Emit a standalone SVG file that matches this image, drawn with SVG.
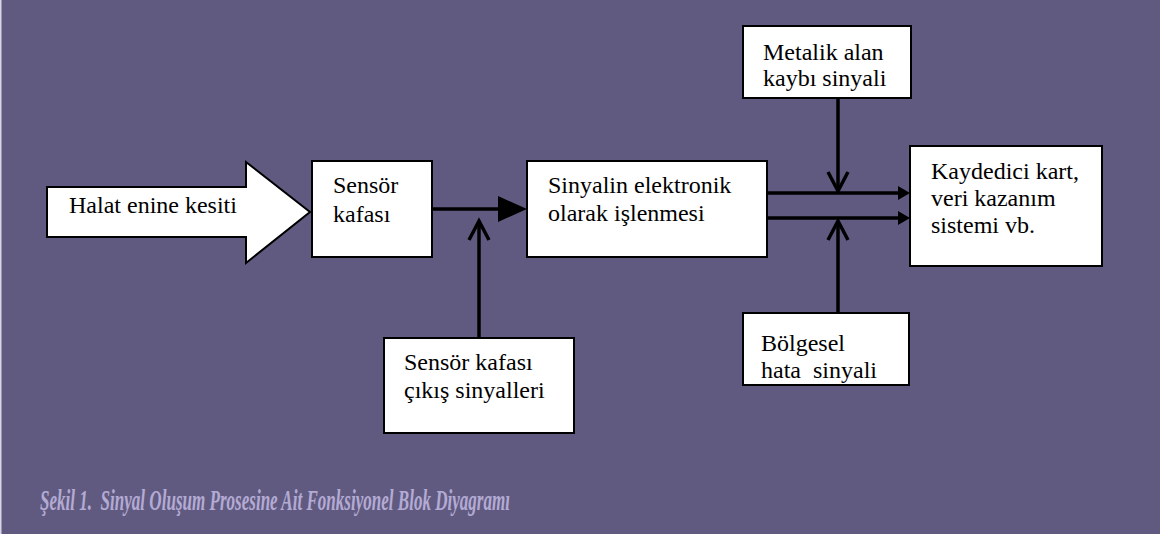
<svg xmlns="http://www.w3.org/2000/svg" width="1160" height="534" viewBox="0 0 1160 534">
<style>
.bg{fill:#615a80}
.box{fill:#ffffff;stroke:#000000;stroke-width:2}
.t{font-family:"Liberation Serif","Times New Roman",Times,serif;font-size:24px;fill:#000000}
.ln{stroke:#000000;stroke-width:3.5;fill:none}
.v{stroke:#000000;stroke-width:3.5;fill:none;stroke-linejoin:miter}
.cap{font-family:"Liberation Serif","Times New Roman",Times,serif;font-size:30px;font-style:italic;font-weight:bold;fill:#b3abd4}
</style>
<rect class="bg" x="0" y="0" width="1160" height="534"/>
<rect x="0" y="0" width="1.5" height="534" fill="#d9d5e8"/>

<g id="halat">
<path class="box" d="M47,187 L246,187 L246,162 L310,212 L246,263 L246,237 L47,237 Z"/>
<text class="t" x="69" y="213">Halat enine kesiti</text>
</g>

<g id="sensor">
<rect class="box" x="312" y="161" width="120" height="96"/>
<text class="t" x="333" y="193">Sensör</text>
<text class="t" x="333" y="221.5">kafası</text>
</g>

<g id="isleme">
<rect class="box" x="527" y="161" width="240" height="96"/>
<text class="t" x="548" y="193">Sinyalin elektronik</text>
<text class="t" x="548" y="221">olarak işlenmesi</text>
</g>

<g id="metalik">
<rect class="box" x="743" y="26" width="168" height="72"/>
<text class="t" x="763" y="60">Metalik alan</text>
<text class="t" x="763" y="86">kaybı sinyali</text>
</g>

<g id="kaydedici">
<rect class="box" x="910" y="146" width="192" height="120"/>
<text class="t" x="931" y="179">Kaydedici kart,</text>
<text class="t" x="931" y="206">veri kazanım</text>
<text class="t" x="931" y="233">sistemi vb.</text>
</g>

<g id="bolgesel">
<rect class="box" x="743" y="313" width="166" height="72"/>
<text class="t" x="761" y="351">Bölgesel</text>
<text class="t" x="761" y="378" xml:space="preserve">hata  sinyali</text>
</g>

<g id="cikis">
<rect class="box" x="384" y="338" width="190" height="95"/>
<text class="t" x="404" y="370">Sensör kafası</text>
<text class="t" x="404" y="398">çıkış sinyalleri</text>
</g>

<text class="cap" x="40" y="510" textLength="470" lengthAdjust="spacingAndGlyphs" xml:space="preserve">Şekil 1.  Sinyal Oluşum Prosesine Ait Fonksiyonel Blok Diyagramı</text>

<g id="connectors">
<line class="ln" x1="432" y1="209" x2="500" y2="209"/>
<path d="M498,196 L527,209 L498,222 Z" fill="#000"/>
<line class="ln" x1="479" y1="338" x2="479" y2="222"/>
<path class="v" d="M469,240 L479,221 L489,240"/>
<line class="ln" x1="767" y1="193" x2="900" y2="193"/>
<path d="M898,186 L910,193 L898,200 Z" fill="#000"/>
<line class="ln" x1="767" y1="218" x2="900" y2="218"/>
<path d="M898,211 L910,218 L898,225 Z" fill="#000"/>
<line class="ln" x1="838" y1="98" x2="838" y2="190"/>
<path class="v" d="M828,172 L838,191 L848,172"/>
<line class="ln" x1="838" y1="313" x2="838" y2="222"/>
<path class="v" d="M828,240 L838,221 L848,240"/>
</g>
</svg>
